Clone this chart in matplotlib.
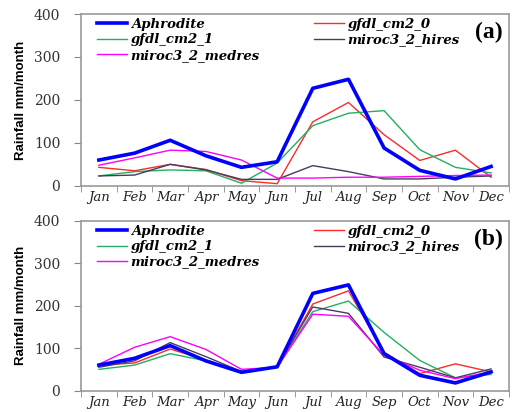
import numpy as np
import matplotlib
matplotlib.use("Agg")
import matplotlib.pyplot as plt
from matplotlib.ticker import FixedLocator

months = ["Jan", "Feb", "Mar", "Apr", "May", "Jun", "Jul", "Aug", "Sep", "Oct", "Nov", "Dec"]
names = ["Aphrodite", "gfdl_cm2_0", "gfdl_cm2_1", "miroc3_2_hires", "miroc3_2_medres"]

# panel (a)
aphro_a = [60, 76, 106, 70, 43, 56, 227, 248, 88, 36, 16, 45]
gfdl0_a = [43, 35, 50, 38, 12, 5, 149, 194, 119, 59, 83, 20]
gfdl1_a = [23, 33, 37, 35, 6, 53, 140, 169, 175, 84, 43, 30]
hires_a = [23, 25, 50, 37, 15, 15, 47, 33, 16, 16, 20, 23]
medres_a = [48, 65, 83, 80, 60, 18, 18, 20, 20, 22, 24, 25]

# panel (b)
aphro_b = [60, 76, 106, 70, 43, 56, 229, 249, 87, 36, 18, 44]
gfdl0_b = [60, 65, 98, 72, 45, 55, 204, 235, 90, 40, 63, 44]
gfdl1_b = [50, 60, 87, 70, 42, 55, 186, 211, 137, 71, 30, 38]
hires_b = [55, 70, 113, 80, 45, 57, 197, 182, 79, 55, 30, 51]
medres_b = [62, 102, 127, 97, 50, 55, 180, 175, 83, 48, 28, 44]

colors = {"Aphrodite": "#0000ff", "gfdl_cm2_0": "#ff2a2a", "gfdl_cm2_1": "#22b060",
          "miroc3_2_hires": "#4a3a5e", "miroc3_2_medres": "#ff00ff"}
widths = {"Aphrodite": 2.6, "gfdl_cm2_0": 1.0, "gfdl_cm2_1": 1.0,
          "miroc3_2_hires": 1.0, "miroc3_2_medres": 1.0}

fig = plt.figure(figsize=(5.13, 4.12), dpi=100)
ax1 = fig.add_axes([0.158, 0.549, 0.834, 0.417])
ax2 = fig.add_axes([0.158, 0.052, 0.834, 0.412])

serif = ["DejaVu Serif"]
narrow = ["DejaVu Sans Condensed", "Liberation Sans Narrow", "Liberation Sans", "DejaVu Sans"]

def draw(ax, data, tag):
    x = np.arange(1, 13)
    lines = {}
    for n, d in zip(names, data):
        lines[n], = ax.plot(x, d, color=colors[n], lw=widths[n], label=n)
    lines["Aphrodite"].set_zorder(5)
    order = ["Aphrodite", "gfdl_cm2_1", "miroc3_2_medres", "gfdl_cm2_0", "miroc3_2_hires"]
    ax.legend([lines[o] for o in order], order, ncol=2, frameon=False,
              loc="upper left", bbox_to_anchor=(0.025, 1.008),
              prop={"family": serif, "weight": "bold", "style": "italic", "size": 9.5},
              handlelength=2.3, handletextpad=0.25, columnspacing=4.1,
              labelspacing=0.18, borderaxespad=0)
    ax.text(0.985, 0.955, tag, transform=ax.transAxes, ha="right", va="top",
            fontsize=17, fontweight="bold", family=["Liberation Serif"])
    ax.set_xlim(0.5, 12.5)
    ax.set_ylim(0, 400)
    ax.set_yticks([0, 100, 200, 300, 400])
    ax.set_yticklabels(["0", "100", "200", "300", "400"], family=serif, fontsize=10, color="#333333")
    ax.set_xticks(x)
    ax.set_xticklabels(months, family=serif, style="italic", fontsize=9.5, color="#222222")
    ax.xaxis.set_minor_locator(FixedLocator(np.arange(0.5, 13, 1)))
    ax.tick_params(axis="x", which="major", length=0, pad=4)
    ax.tick_params(axis="x", which="minor", length=4, color="#888888", direction="out")
    ax.tick_params(axis="y", length=5, color="#888888", direction="out", pad=10)
    for s in ax.spines.values():
        s.set_color("#999999")
        s.set_linewidth(1.2)
    ax.set_ylabel("Rainfall mm/month", family=narrow, fontweight="bold", fontsize=9.5,
                  fontstretch="condensed", labelpad=5)

draw(ax1, [aphro_a, gfdl0_a, gfdl1_a, hires_a, medres_a], "(a)")
draw(ax2, [aphro_b, gfdl0_b, gfdl1_b, hires_b, medres_b], "(b)")

fig.savefig("out.png", dpi=100)
